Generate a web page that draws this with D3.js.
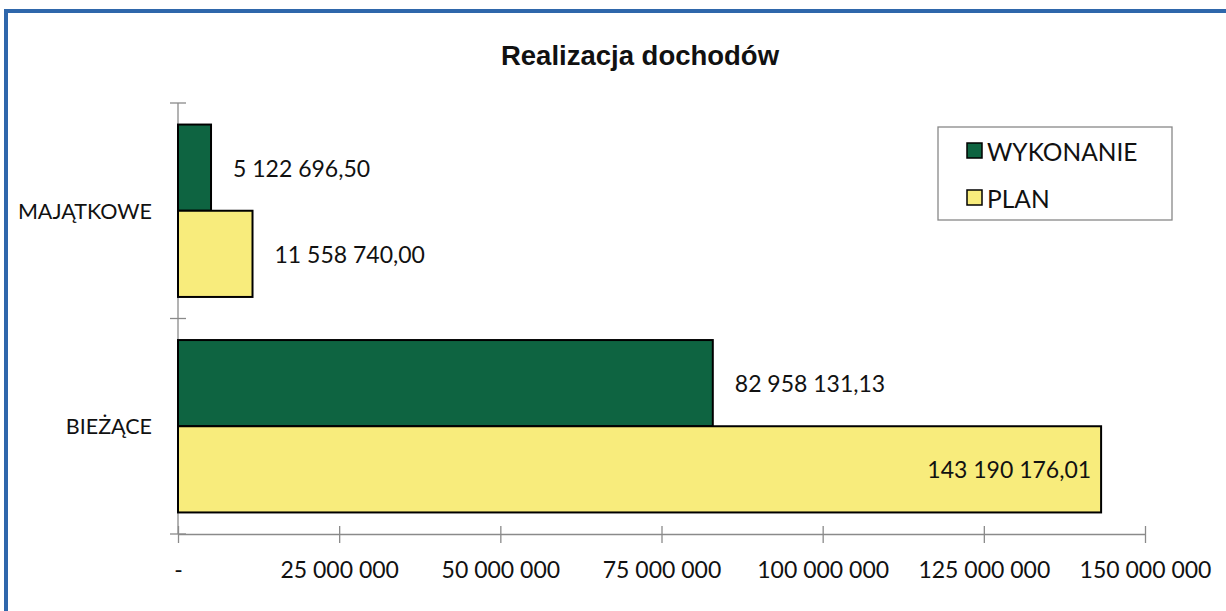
<!DOCTYPE html>
<html><head><meta charset="utf-8">
<script src="https://cdn.jsdelivr.net/npm/d3@7/dist/d3.min.js"></script>
<style>body{margin:0;background:#fff}svg{display:block}</style>
</head><body><svg id="c" width="1226" height="611"></svg>
<script>
const categories = ["MAJĄTKOWE", "BIEŻĄCE"];
const seriesNames = ["WYKONANIE", "PLAN"];
const wykonanie = [5122696.50, 82958131.13];
const plan = [11558740.00, 143190176.01];
const valueLabels = [["5 122 696,50", "11 558 740,00"], ["82 958 131,13", "143 190 176,01"]];
const tickValues = [0, 25000000, 50000000, 75000000, 100000000, 125000000, 150000000];
const tickLabels = ["-", "25 000 000", "50 000 000", "75 000 000", "100 000 000", "125 000 000", "150 000 000"];
const colors = {"WYKONANIE": "#0e6441", "PLAN": "#f8ec7c"};

const svg = d3.select("#c");
const font = "Lato, 'Open Sans', sans-serif";

// frame
svg.append("line").attr("x1", 6).attr("x2", 6).attr("y1", 9).attr("y2", 611).attr("stroke", "#2f67ab").attr("stroke-width", 4);
svg.append("line").attr("x1", 4).attr("x2", 1226).attr("y1", 11).attr("y2", 11).attr("stroke", "#2f67ab").attr("stroke-width", 4);

svg.append("text").attr("x", 640).attr("y", 65).attr("text-anchor", "middle")
  .attr("font-family", "'Liberation Sans', Arial, sans-serif").attr("font-weight", "bold")
  .attr("font-size", 27.5).attr("fill", "#111").text("Realizacja dochodów");

const x = d3.scaleLinear().domain([0, 150000000]).range([178, 1145]);
const y = d3.scaleBand().domain(categories).range([103, 534]).paddingInner(0.2).paddingOuter(0.1);
const ys = d3.scaleBand().domain(seriesNames).range([0, y.bandwidth()]);

const data = [];
categories.forEach((c, i) => {
  data.push({cat: c, s: "WYKONANIE", v: wykonanie[i], lab: valueLabels[i][0]});
  data.push({cat: c, s: "PLAN", v: plan[i], lab: valueLabels[i][1]});
});

// axes
const axisColor = "#8a8a8a";
const yAxis = svg.append("g");
yAxis.append("line").attr("x1", x(0)).attr("x2", x(0)).attr("y1", 103).attr("y2", 534).attr("stroke", axisColor).attr("stroke-width", 1.3);
const yb = [y.range()[0], (y("BIEŻĄCE") + y("MAJĄTKOWE") + y.bandwidth()) / 2, y.range()[1]];
yb.forEach(v => yAxis.append("line").attr("x1", x(0) - 8).attr("x2", x(0) + 8).attr("y1", v).attr("y2", v).attr("stroke", axisColor).attr("stroke-width", 1.3));

const xAxis = d3.axisBottom(x).tickValues(tickValues).tickFormat((d, i) => tickLabels[i]).tickSize(9).tickSizeOuter(0);
const gx = svg.append("g").attr("transform", "translate(0,534)").call(xAxis);
gx.select(".domain").attr("stroke", axisColor).attr("stroke-width", 1.3);
gx.selectAll(".tick line").attr("stroke", axisColor).attr("stroke-width", 1.3).attr("y1", -8);
gx.selectAll(".tick text").attr("font-family", font).attr("font-size", 23).attr("fill", "#111").attr("dy", 0).attr("y", 44);

// bars
svg.selectAll("rect.bar").data(data).join("rect").attr("class", "bar")
  .attr("x", x(0)).attr("y", d => y(d.cat) + ys(d.s))
  .attr("width", d => x(d.v) - x(0)).attr("height", ys.bandwidth())
  .attr("fill", d => colors[d.s]).attr("stroke", "#000").attr("stroke-width", 2);

// value labels
svg.selectAll("text.val").data(data).join("text").attr("class", "val")
  .attr("font-family", font).attr("font-size", 23).attr("fill", "#111")
  .attr("dominant-baseline", "central")
  .attr("y", d => y(d.cat) + ys(d.s) + ys.bandwidth() / 2)
  .attr("x", d => d.v > 120000000 ? x(d.v) - 10 : x(d.v) + 22)
  .attr("text-anchor", d => d.v > 120000000 ? "end" : "start")
  .text(d => d.lab);

// category labels
svg.selectAll("text.cat").data(categories).join("text").attr("class", "cat")
  .attr("x", 152).attr("y", d => y(d) + y.bandwidth() / 2)
  .attr("text-anchor", "end").attr("dominant-baseline", "central")
  .attr("font-family", font).attr("font-size", 21.5).attr("fill", "#111").text(d => d);

// legend
const lg = svg.append("g");
lg.append("rect").attr("x", 938).attr("y", 127).attr("width", 234).attr("height", 93).attr("fill", "#fff").attr("stroke", "#888").attr("stroke-width", 1.3);
seriesNames.forEach((s, i) => {
  const cy = 150 + i * 47;
  lg.append("rect").attr("x", 967).attr("y", cy - 7).attr("width", 15).attr("height", 15).attr("fill", colors[s]).attr("stroke", "#000").attr("stroke-width", 1.5);
  lg.append("text").attr("x", 987).attr("y", cy + 1).attr("dominant-baseline", "central")
    .attr("font-family", font).attr("font-size", 24.5).attr("fill", "#111").text(s);
});
</script></body></html>
